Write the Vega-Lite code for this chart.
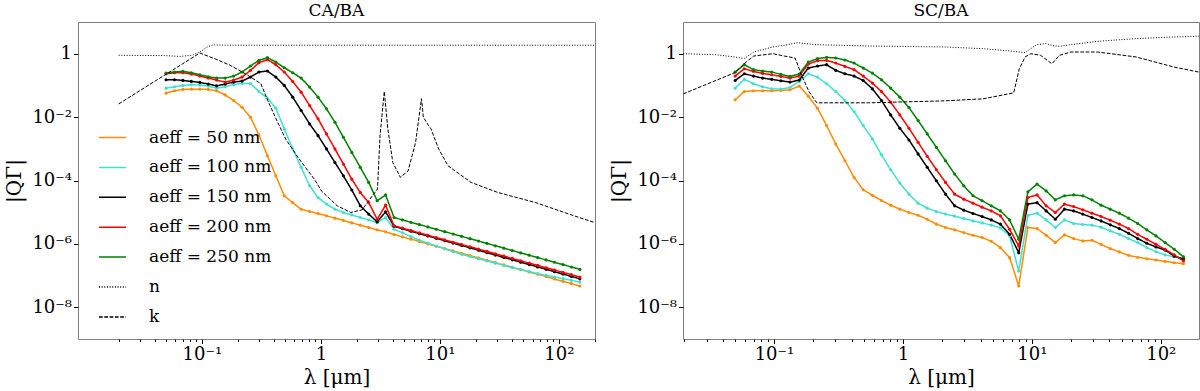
{
"$schema": "https://vega.github.io/schema/vega-lite/v6.json",
"padding": {"left": 3, "top": 1, "right": 2, "bottom": 0},
"background": "white",
"spacing": 12,
"config": {
  "font": "DejaVu Serif",
  "view": {"stroke": "#808080", "strokeWidth": 1},
  "axis": {"domain": false, "grid": false, "tickColor": "#000", "tickWidth": 1, "labelFont": "DejaVu Serif", "labelFontSize": 18, "labelColor": "#000", "titleFont": "DejaVu Serif", "titleFontSize": 20, "titleFontWeight": "normal", "titleColor": "#000", "labelFlush": false, "labelOverlap": false, "labelBound": false},
  "axisY": {"minExtent": 46, "maxExtent": 46},
  "title": {"font": "DejaVu Serif", "fontSize": 17, "fontWeight": "normal", "color": "#000", "offset": 2, "baseline": "bottom"}
},
"datasets": {
"ca": [
{"s":"50","x":0.05,"y":0.057},{"s":"50","x":0.0589,"y":0.068},{"s":"50","x":0.0693,"y":0.0745},{"s":"50","x":0.0816,"y":0.076},{"s":"50","x":0.0961,"y":0.076},{"s":"50","x":0.1131,"y":0.0745},{"s":"50","x":0.1332,"y":0.068},{"s":"50","x":0.1569,"y":0.05},{"s":"50","x":0.1847,"y":0.0334},{"s":"50","x":0.2175,"y":0.0205},
{"s":"50","x":0.256,"y":0.0099},{"s":"50","x":0.3015,"y":0.00274},{"s":"50","x":0.3552,"y":6.1e-4},{"s":"50","x":0.4182,"y":1.41e-4},{"s":"50","x":0.4924,"y":3.3e-5},{"s":"50","x":0.5798,"y":2.0e-5},{"s":"50","x":0.6827,"y":1.24e-5},{"s":"50","x":0.8039,"y":1.05e-5},{"s":"50","x":0.9465,"y":9.1e-6},{"s":"50","x":1.1145,"y":7.7e-6},
{"s":"50","x":1.312,"y":6.5e-6},{"s":"50","x":1.545,"y":5.5e-6},{"s":"50","x":1.819,"y":4.6e-6},{"s":"50","x":2.142,"y":3.9e-6},{"s":"50","x":2.522,"y":3.3e-6},{"s":"50","x":2.97,"y":2.77e-6},{"s":"50","x":3.497,"y":2.4e-6},{"s":"50","x":4.118,"y":1.97e-6},{"s":"50","x":4.849,"y":1.67e-6},{"s":"50","x":5.709,"y":1.41e-6},
{"s":"50","x":6.723,"y":1.19e-6},{"s":"50","x":7.916,"y":1.0e-6},{"s":"50","x":9.321,"y":8.45e-7},{"s":"50","x":10.98,"y":7.13e-7},{"s":"50","x":12.92,"y":6.0e-7},{"s":"50","x":15.22,"y":5.07e-7},{"s":"50","x":17.92,"y":4.28e-7},{"s":"50","x":21.1,"y":3.61e-7},{"s":"50","x":24.85,"y":3.05e-7},{"s":"50","x":29.26,"y":2.57e-7},
{"s":"50","x":34.45,"y":2.17e-7},{"s":"50","x":40.56,"y":1.83e-7},{"s":"50","x":47.76,"y":1.54e-7},{"s":"50","x":56.24,"y":1.3e-7},{"s":"50","x":66.23,"y":1.1e-7},{"s":"50","x":77.98,"y":9.3e-8},{"s":"50","x":91.82,"y":7.8e-8},{"s":"50","x":108.1,"y":6.6e-8},{"s":"50","x":127.3,"y":5.6e-8},{"s":"50","x":150,"y":4.7e-8},
{"s":"100","x":0.05,"y":0.082},{"s":"100","x":0.0589,"y":0.0906},{"s":"100","x":0.0693,"y":0.1},{"s":"100","x":0.0816,"y":0.105},{"s":"100","x":0.0961,"y":0.102},{"s":"100","x":0.1131,"y":0.095},{"s":"100","x":0.1332,"y":0.082},{"s":"100","x":0.1569,"y":0.0906},{"s":"100","x":0.1847,"y":0.105},{"s":"100","x":0.2175,"y":0.115},
{"s":"100","x":0.256,"y":0.115},{"s":"100","x":0.3015,"y":0.064},{"s":"100","x":0.3552,"y":0.0396},{"s":"100","x":0.4182,"y":0.0191},{"s":"100","x":0.4924,"y":0.00424},{"s":"100","x":0.5798,"y":9.9e-4},{"s":"100","x":0.6827,"y":2.6e-4},{"s":"100","x":0.8039,"y":6.8e-5},{"s":"100","x":0.9465,"y":2.9e-5},{"s":"100","x":1.1145,"y":1.8e-5},
{"s":"100","x":1.312,"y":1.25e-5},{"s":"100","x":1.545,"y":9.8e-6},{"s":"100","x":1.819,"y":8.2e-6},{"s":"100","x":2.142,"y":6.8e-6},{"s":"100","x":2.522,"y":5.7e-6},{"s":"100","x":2.97,"y":4.7e-6},{"s":"100","x":3.497,"y":6.8e-6},{"s":"100","x":4.118,"y":2.9e-6},{"s":"100","x":4.849,"y":2.24e-6},{"s":"100","x":5.709,"y":1.7e-6},
{"s":"100","x":6.723,"y":1.3e-6},{"s":"100","x":7.916,"y":1.06e-6},{"s":"100","x":9.321,"y":8.6e-7},{"s":"100","x":10.98,"y":7.0e-7},{"s":"100","x":12.92,"y":5.7e-7},{"s":"100","x":15.22,"y":4.7e-7},{"s":"100","x":17.92,"y":4.0e-7},{"s":"100","x":21.1,"y":3.4e-7},{"s":"100","x":24.85,"y":2.9e-7},{"s":"100","x":29.26,"y":2.47e-7},
{"s":"100","x":34.45,"y":2.1e-7},{"s":"100","x":40.56,"y":1.81e-7},{"s":"100","x":47.76,"y":1.56e-7},{"s":"100","x":56.24,"y":1.34e-7},{"s":"100","x":66.23,"y":1.15e-7},{"s":"100","x":77.98,"y":1.02e-7},{"s":"100","x":91.82,"y":9.0e-8},{"s":"100","x":108.1,"y":8.0e-8},{"s":"100","x":127.3,"y":7.1e-8},{"s":"100","x":150,"y":6.25e-8},
{"s":"150","x":0.05,"y":0.151},{"s":"150","x":0.0589,"y":0.151},{"s":"150","x":0.0693,"y":0.1436},{"s":"150","x":0.0816,"y":0.1336},{"s":"150","x":0.0961,"y":0.124},{"s":"150","x":0.1131,"y":0.11},{"s":"150","x":0.1332,"y":0.097},{"s":"150","x":0.1569,"y":0.11},{"s":"150","x":0.1847,"y":0.127},{"s":"150","x":0.2175,"y":0.137},
{"s":"150","x":0.256,"y":0.183},{"s":"150","x":0.3015,"y":0.264},{"s":"150","x":0.3552,"y":0.284},{"s":"150","x":0.4182,"y":0.183},{"s":"150","x":0.4924,"y":0.0998},{"s":"150","x":0.5798,"y":0.0426},{"s":"150","x":0.6827,"y":0.0161},{"s":"150","x":0.8039,"y":0.0061},{"s":"150","x":0.9465,"y":0.0026},{"s":"150","x":1.1145,"y":9.9e-4},
{"s":"150","x":1.312,"y":3.7e-4},{"s":"150","x":1.545,"y":1.4e-4},{"s":"150","x":1.819,"y":5.0e-5},{"s":"150","x":2.142,"y":1.6e-5},{"s":"150","x":2.522,"y":8.7e-6},{"s":"150","x":2.97,"y":4.95e-6},{"s":"150","x":3.497,"y":1.03e-5},{"s":"150","x":4.118,"y":3.6e-6},{"s":"150","x":4.849,"y":3.0e-6},{"s":"150","x":5.709,"y":2.5e-6},
{"s":"150","x":6.723,"y":2.1e-6},{"s":"150","x":7.916,"y":1.78e-6},{"s":"150","x":9.321,"y":1.5e-6},{"s":"150","x":10.98,"y":1.26e-6},{"s":"150","x":12.92,"y":1.06e-6},{"s":"150","x":15.22,"y":8.9e-7},{"s":"150","x":17.92,"y":7.5e-7},{"s":"150","x":21.1,"y":6.3e-7},{"s":"150","x":24.85,"y":5.3e-7},{"s":"150","x":29.26,"y":4.45e-7},
{"s":"150","x":34.45,"y":3.75e-7},{"s":"150","x":40.56,"y":3.15e-7},{"s":"150","x":47.76,"y":2.65e-7},{"s":"150","x":56.24,"y":2.23e-7},{"s":"150","x":66.23,"y":1.88e-7},{"s":"150","x":77.98,"y":1.58e-7},{"s":"150","x":91.82,"y":1.33e-7},{"s":"150","x":108.1,"y":1.12e-7},{"s":"150","x":127.3,"y":9.4e-8},{"s":"150","x":150,"y":7.9e-8},
{"s":"200","x":0.05,"y":0.232},{"s":"200","x":0.0589,"y":0.251},{"s":"200","x":0.0693,"y":0.251},{"s":"200","x":0.0816,"y":0.228},{"s":"200","x":0.0961,"y":0.197},{"s":"200","x":0.1131,"y":0.17},{"s":"200","x":0.1332,"y":0.147},{"s":"200","x":0.1569,"y":0.127},{"s":"200","x":0.1847,"y":0.147},{"s":"200","x":0.2175,"y":0.183},
{"s":"200","x":0.256,"y":0.298},{"s":"200","x":0.3015,"y":0.52},{"s":"200","x":0.3552,"y":0.647},{"s":"200","x":0.4182,"y":0.45},{"s":"200","x":0.4924,"y":0.264},{"s":"200","x":0.5798,"y":0.133},{"s":"200","x":0.6827,"y":0.0613},{"s":"200","x":0.8039,"y":0.0232},{"s":"200","x":0.9465,"y":0.0088},{"s":"200","x":1.1145,"y":0.00294},
{"s":"200","x":1.312,"y":9.9e-4},{"s":"200","x":1.545,"y":3.3e-4},{"s":"200","x":1.819,"y":1.1e-4},{"s":"200","x":2.142,"y":4.2e-5},{"s":"200","x":2.522,"y":2.0e-5},{"s":"200","x":2.97,"y":6.0e-6},{"s":"200","x":3.497,"y":1.67e-5},{"s":"200","x":4.118,"y":3.7e-6},{"s":"200","x":4.849,"y":3.13e-6},{"s":"200","x":5.709,"y":2.64e-6},
{"s":"200","x":6.723,"y":2.23e-6},{"s":"200","x":7.916,"y":1.88e-6},{"s":"200","x":9.321,"y":1.59e-6},{"s":"200","x":10.98,"y":1.34e-6},{"s":"200","x":12.92,"y":1.13e-6},{"s":"200","x":15.22,"y":9.6e-7},{"s":"200","x":17.92,"y":8.1e-7},{"s":"200","x":21.1,"y":6.84e-7},{"s":"200","x":24.85,"y":5.78e-7},{"s":"200","x":29.26,"y":4.88e-7},
{"s":"200","x":34.45,"y":4.12e-7},{"s":"200","x":40.56,"y":3.48e-7},{"s":"200","x":47.76,"y":2.94e-7},{"s":"200","x":56.24,"y":2.48e-7},{"s":"200","x":66.23,"y":2.1e-7},{"s":"200","x":77.98,"y":1.77e-7},{"s":"200","x":91.82,"y":1.5e-7},{"s":"200","x":108.1,"y":1.26e-7},{"s":"200","x":127.3,"y":1.07e-7},{"s":"200","x":150,"y":9.0e-8},
{"s":"250","x":0.05,"y":0.244},{"s":"250","x":0.0589,"y":0.264},{"s":"250","x":0.0693,"y":0.277},{"s":"250","x":0.0816,"y":0.251},{"s":"250","x":0.0961,"y":0.217},{"s":"250","x":0.1131,"y":0.188},{"s":"250","x":0.1332,"y":0.17},{"s":"250","x":0.1569,"y":0.17},{"s":"250","x":0.1847,"y":0.197},{"s":"250","x":0.2175,"y":0.264},
{"s":"250","x":0.256,"y":0.41},{"s":"250","x":0.3015,"y":0.616},{"s":"250","x":0.3552,"y":0.75},{"s":"250","x":0.4182,"y":0.546},{"s":"250","x":0.4924,"y":0.361},{"s":"250","x":0.5798,"y":0.251},{"s":"250","x":0.6827,"y":0.17},{"s":"250","x":0.8039,"y":0.0883},{"s":"250","x":0.9465,"y":0.0426},{"s":"250","x":1.1145,"y":0.0182},
{"s":"250","x":1.312,"y":0.0069},{"s":"250","x":1.545,"y":0.00231},{"s":"250","x":1.819,"y":7.7e-4},{"s":"250","x":2.142,"y":2.6e-4},{"s":"250","x":2.522,"y":8.7e-5},{"s":"250","x":2.97,"y":2.3e-5},{"s":"250","x":3.497,"y":3.5e-5},{"s":"250","x":4.118,"y":6.8e-6},{"s":"250","x":4.849,"y":5.7e-6},{"s":"250","x":5.709,"y":4.8e-6},
{"s":"250","x":6.723,"y":4.06e-6},{"s":"250","x":7.916,"y":3.43e-6},{"s":"250","x":9.321,"y":2.89e-6},{"s":"250","x":10.98,"y":2.43e-6},{"s":"250","x":12.92,"y":2.05e-6},{"s":"250","x":15.22,"y":1.73e-6},{"s":"250","x":17.92,"y":1.46e-6},{"s":"250","x":21.1,"y":1.23e-6},{"s":"250","x":24.85,"y":1.04e-6},{"s":"250","x":29.26,"y":8.7e-7},
{"s":"250","x":34.45,"y":7.35e-7},{"s":"250","x":40.56,"y":6.2e-7},{"s":"250","x":47.76,"y":5.2e-7},{"s":"250","x":56.24,"y":4.4e-7},{"s":"250","x":66.23,"y":3.7e-7},{"s":"250","x":77.98,"y":3.13e-7},{"s":"250","x":91.82,"y":2.63e-7},{"s":"250","x":108.1,"y":2.22e-7},{"s":"250","x":127.3,"y":1.87e-7},{"s":"250","x":150,"y":1.57e-7},
{"s":"n","x":0.02,"y":0.89},{"s":"n","x":0.03,"y":0.88},{"s":"n","x":0.049,"y":0.87},{"s":"n","x":0.066,"y":0.82},{"s":"n","x":0.083,"y":0.9},{"s":"n","x":0.096,"y":1.13},{"s":"n","x":0.111,"y":1.63},{"s":"n","x":0.124,"y":1.9},{"s":"n","x":0.15,"y":1.86},{"s":"n","x":0.3,"y":1.85},{"s":"n","x":1,"y":1.85},{"s":"n","x":10,"y":1.85},{"s":"n","x":100,"y":1.85},{"s":"n","x":200,"y":1.85},
{"s":"k","x":0.02,"y":0.026},{"s":"k","x":0.096,"y":1.05},{"s":"k","x":0.129,"y":0.69},{"s":"k","x":0.173,"y":0.43},{"s":"k","x":0.233,"y":0.23},{"s":"k","x":0.313,"y":0.113},{"s":"k","x":0.363,"y":0.0295},{"s":"k","x":0.42,"y":0.0088},{"s":"k","x":0.507,"y":0.002},{"s":"k","x":0.656,"y":4.8e-4},{"s":"k","x":0.88,"y":1.1e-4},{"s":"k","x":1.02,"y":4.5e-5},{"s":"k","x":1.37,"y":1.6e-5},{"s":"k","x":1.78,"y":9.8e-6},{"s":"k","x":2.22,"y":1.19e-5},{"s":"k","x":2.58,"y":2.6e-5},{"s":"k","x":2.99,"y":5.4e-5},{"s":"k","x":3.14,"y":2.6e-3},{"s":"k","x":3.41,"y":0.064},{"s":"k","x":3.65,"y":0.0043},{"s":"k","x":4.02,"y":3.7e-4},{"s":"k","x":4.65,"y":1.26e-4},{"s":"k","x":5.4,"y":2.0e-4},{"s":"k","x":6.25,"y":1.6e-3},{"s":"k","x":7.0,"y":0.038},{"s":"k","x":7.26,"y":0.01},{"s":"k","x":8.0,"y":0.0055},{"s":"k","x":8.4,"y":0.0043},{"s":"k","x":9.75,"y":1.0e-3},{"s":"k","x":11.7,"y":2.9e-4},{"s":"k","x":18.3,"y":8.7e-5},{"s":"k","x":30.6,"y":4.2e-5},{"s":"k","x":64,"y":2.0e-5},{"s":"k","x":134,"y":7.7e-6},{"s":"k","x":200,"y":4.7e-6}
],
"sc": [
{"s":"50","x":0.05,"y":0.035},{"s":"50","x":0.0589,"y":0.064},{"s":"50","x":0.0693,"y":0.0676},{"s":"50","x":0.0816,"y":0.0676},{"s":"50","x":0.0961,"y":0.0676},{"s":"50","x":0.1131,"y":0.0693},{"s":"50","x":0.1332,"y":0.0728},{"s":"50","x":0.1569,"y":0.095},{"s":"50","x":0.1847,"y":0.0458},{"s":"50","x":0.2175,"y":0.0191},
{"s":"50","x":0.256,"y":0.0054},{"s":"50","x":0.3015,"y":0.00142},{"s":"50","x":0.3552,"y":4.2e-4},{"s":"50","x":0.4182,"y":1.25e-4},{"s":"50","x":0.4924,"y":5.1e-5},{"s":"50","x":0.5798,"y":3.4e-5},{"s":"50","x":0.6827,"y":2.34e-5},{"s":"50","x":0.8039,"y":1.67e-5},{"s":"50","x":0.9465,"y":1.25e-5},{"s":"50","x":1.1145,"y":9.8e-6},
{"s":"50","x":1.312,"y":8.0e-6},{"s":"50","x":1.545,"y":6.0e-6},{"s":"50","x":1.819,"y":4.2e-6},{"s":"50","x":2.142,"y":3.3e-6},{"s":"50","x":2.522,"y":2.76e-6},{"s":"50","x":2.97,"y":2.27e-6},{"s":"50","x":3.497,"y":1.87e-6},{"s":"50","x":4.118,"y":1.58e-6},{"s":"50","x":4.849,"y":1.21e-6},{"s":"50","x":5.709,"y":7.6e-7},
{"s":"50","x":6.723,"y":3.68e-7},{"s":"50","x":7.916,"y":4.7e-8},{"s":"50","x":9.321,"y":3.3e-6},{"s":"50","x":10.98,"y":3.05e-6},{"s":"50","x":12.92,"y":1.87e-6},{"s":"50","x":15.22,"y":1.1e-6},{"s":"50","x":17.92,"y":1.92e-6},{"s":"50","x":21.1,"y":1.47e-6},{"s":"50","x":24.85,"y":1.24e-6},{"s":"50","x":29.26,"y":1.3e-6},
{"s":"50","x":34.45,"y":9.7e-7},{"s":"50","x":40.56,"y":7.1e-7},{"s":"50","x":47.76,"y":5.6e-7},{"s":"50","x":56.24,"y":4.36e-7},{"s":"50","x":66.23,"y":3.77e-7},{"s":"50","x":77.98,"y":3.41e-7},{"s":"50","x":91.82,"y":3.1e-7},{"s":"50","x":108.1,"y":2.81e-7},{"s":"50","x":127.3,"y":2.55e-7},{"s":"50","x":150,"y":2.37e-7},
{"s":"100","x":0.05,"y":0.082},{"s":"100","x":0.0589,"y":0.155},{"s":"100","x":0.0693,"y":0.113},{"s":"100","x":0.0816,"y":0.0906},{"s":"100","x":0.0961,"y":0.078},{"s":"100","x":0.1131,"y":0.076},{"s":"100","x":0.1332,"y":0.086},{"s":"100","x":0.1569,"y":0.133},{"s":"100","x":0.1847,"y":0.233},{"s":"100","x":0.2175,"y":0.183},
{"s":"100","x":0.256,"y":0.113},{"s":"100","x":0.3015,"y":0.064},{"s":"100","x":0.3552,"y":0.0334},{"s":"100","x":0.4182,"y":0.015},{"s":"100","x":0.4924,"y":0.0054},{"s":"100","x":0.5798,"y":0.00205},{"s":"100","x":0.6827,"y":6.4e-4},{"s":"100","x":0.8039,"y":2.19e-4},{"s":"100","x":0.9465,"y":8.3e-5},{"s":"100","x":1.1145,"y":3.7e-5},
{"s":"100","x":1.312,"y":1.93e-5},{"s":"100","x":1.545,"y":1.34e-5},{"s":"100","x":1.819,"y":1.05e-5},{"s":"100","x":2.142,"y":8.7e-6},{"s":"100","x":2.522,"y":7.5e-6},{"s":"100","x":2.97,"y":6.3e-6},{"s":"100","x":3.497,"y":5.3e-6},{"s":"100","x":4.118,"y":4.6e-6},{"s":"100","x":4.849,"y":3.9e-6},{"s":"100","x":5.709,"y":3.2e-6},
{"s":"100","x":6.723,"y":1.79e-6},{"s":"100","x":7.916,"y":1.39e-7},{"s":"100","x":9.321,"y":8.0e-6},{"s":"100","x":10.98,"y":9.3e-6},{"s":"100","x":12.92,"y":5.7e-6},{"s":"100","x":15.22,"y":3.3e-6},{"s":"100","x":17.92,"y":5.7e-6},{"s":"100","x":21.1,"y":4.4e-6},{"s":"100","x":24.85,"y":4.1e-6},{"s":"100","x":29.26,"y":3.9e-6},
{"s":"100","x":34.45,"y":3.36e-6},{"s":"100","x":40.56,"y":2.57e-6},{"s":"100","x":47.76,"y":2.01e-6},{"s":"100","x":56.24,"y":1.47e-6},{"s":"100","x":66.23,"y":1.1e-6},{"s":"100","x":77.98,"y":7.6e-7},{"s":"100","x":91.82,"y":5.7e-7},{"s":"100","x":108.1,"y":4.5e-7},{"s":"100","x":127.3,"y":3.87e-7},{"s":"100","x":150,"y":3.6e-7},
{"s":"150","x":0.05,"y":0.143},{"s":"150","x":0.0589,"y":0.233},{"s":"150","x":0.0693,"y":0.197},{"s":"150","x":0.0816,"y":0.17},{"s":"150","x":0.0961,"y":0.155},{"s":"150","x":0.1131,"y":0.14},{"s":"150","x":0.1332,"y":0.127},{"s":"150","x":0.1569,"y":0.147},{"s":"150","x":0.1847,"y":0.353},{"s":"150","x":0.2175,"y":0.408},
{"s":"150","x":0.256,"y":0.45},{"s":"150","x":0.3015,"y":0.298},{"s":"150","x":0.3552,"y":0.233},{"s":"150","x":0.4182,"y":0.197},{"s":"150","x":0.4924,"y":0.143},{"s":"150","x":0.5798,"y":0.078},{"s":"150","x":0.6827,"y":0.0334},{"s":"150","x":0.8039,"y":0.0117},{"s":"150","x":0.9465,"y":0.00445},{"s":"150","x":1.1145,"y":0.0019},
{"s":"150","x":1.312,"y":6.9e-4},{"s":"150","x":1.545,"y":2.6e-4},{"s":"150","x":1.819,"y":9.8e-5},{"s":"150","x":2.142,"y":3.7e-5},{"s":"150","x":2.522,"y":1.59e-5},{"s":"150","x":2.97,"y":1.16e-5},{"s":"150","x":3.497,"y":9.1e-6},{"s":"150","x":4.118,"y":7.3e-6},{"s":"150","x":4.849,"y":5.7e-6},{"s":"150","x":5.709,"y":4.2e-6},
{"s":"150","x":6.723,"y":2.0e-6},{"s":"150","x":7.916,"y":5.3e-7},{"s":"150","x":9.321,"y":1.8e-5},{"s":"150","x":10.98,"y":2.0e-5},{"s":"150","x":12.92,"y":1.1e-5},{"s":"150","x":15.22,"y":6.0e-6},{"s":"150","x":17.92,"y":1.25e-5},{"s":"150","x":21.1,"y":1.1e-5},{"s":"150","x":24.85,"y":8.7e-6},{"s":"150","x":29.26,"y":6.8e-6},
{"s":"150","x":34.45,"y":5.3e-6},{"s":"150","x":40.56,"y":4.0e-6},{"s":"150","x":47.76,"y":3.04e-6},{"s":"150","x":56.24,"y":2.17e-6},{"s":"150","x":66.23,"y":1.47e-6},{"s":"150","x":77.98,"y":1.05e-6},{"s":"150","x":91.82,"y":8.0e-7},{"s":"150","x":108.1,"y":6.4e-7},{"s":"150","x":127.3,"y":4.1e-7},{"s":"150","x":150,"y":3.3e-7},
{"s":"200","x":0.05,"y":0.197},{"s":"200","x":0.0589,"y":0.336},{"s":"200","x":0.0693,"y":0.277},{"s":"200","x":0.0816,"y":0.239},{"s":"200","x":0.0961,"y":0.217},{"s":"200","x":0.1131,"y":0.192},{"s":"200","x":0.1332,"y":0.17},{"s":"200","x":0.1569,"y":0.197},{"s":"200","x":0.1847,"y":0.472},{"s":"200","x":0.2175,"y":0.602},
{"s":"200","x":0.256,"y":0.616},{"s":"200","x":0.3015,"y":0.508},{"s":"200","x":0.3552,"y":0.398},{"s":"200","x":0.4182,"y":0.313},{"s":"200","x":0.4924,"y":0.197},{"s":"200","x":0.5798,"y":0.118},{"s":"200","x":0.6827,"y":0.064},{"s":"200","x":0.8039,"y":0.0296},{"s":"200","x":0.9465,"y":0.0117},{"s":"200","x":1.1145,"y":0.00445},
{"s":"200","x":1.312,"y":0.0016},{"s":"200","x":1.545,"y":5.8e-4},{"s":"200","x":1.819,"y":2.19e-4},{"s":"200","x":2.142,"y":8.7e-5},{"s":"200","x":2.522,"y":3.7e-5},{"s":"200","x":2.97,"y":2.58e-5},{"s":"200","x":3.497,"y":1.93e-5},{"s":"200","x":4.118,"y":1.44e-5},{"s":"200","x":4.849,"y":1.1e-5},{"s":"200","x":5.709,"y":7.7e-6},
{"s":"200","x":6.723,"y":2.9e-6},{"s":"200","x":7.916,"y":8.6e-7},{"s":"200","x":9.321,"y":2.9e-5},{"s":"200","x":10.98,"y":3.5e-5},{"s":"200","x":12.92,"y":1.59e-5},{"s":"200","x":15.22,"y":9.8e-6},{"s":"200","x":17.92,"y":1.8e-5},{"s":"200","x":21.1,"y":1.51e-5},{"s":"200","x":24.85,"y":1.19e-5},{"s":"200","x":29.26,"y":9.3e-6},
{"s":"200","x":34.45,"y":7.3e-6},{"s":"200","x":40.56,"y":5.6e-6},{"s":"200","x":47.76,"y":4.2e-6},{"s":"200","x":56.24,"y":3.04e-6},{"s":"200","x":66.23,"y":2.0e-6},{"s":"200","x":77.98,"y":1.4e-6},{"s":"200","x":91.82,"y":9.7e-7},{"s":"200","x":108.1,"y":6.7e-7},{"s":"200","x":127.3,"y":4.5e-7},{"s":"200","x":150,"y":2.9e-7},
{"s":"250","x":0.05,"y":0.262},{"s":"250","x":0.0589,"y":0.45},{"s":"250","x":0.0693,"y":0.313},{"s":"250","x":0.0816,"y":0.284},{"s":"250","x":0.0961,"y":0.264},{"s":"250","x":0.1131,"y":0.222},{"s":"250","x":0.1332,"y":0.192},{"s":"250","x":0.1569,"y":0.228},{"s":"250","x":0.1847,"y":0.546},{"s":"250","x":0.2175,"y":0.697},
{"s":"250","x":0.256,"y":0.767},{"s":"250","x":0.3015,"y":0.731},{"s":"250","x":0.3552,"y":0.632},{"s":"250","x":0.4182,"y":0.508},{"s":"250","x":0.4924,"y":0.352},{"s":"250","x":0.5798,"y":0.244},{"s":"250","x":0.6827,"y":0.15},{"s":"250","x":0.8039,"y":0.0822},{"s":"250","x":0.9465,"y":0.0426},{"s":"250","x":1.1145,"y":0.02},
{"s":"250","x":1.312,"y":0.00777},{"s":"250","x":1.545,"y":0.00294},{"s":"250","x":1.819,"y":0.00111},{"s":"250","x":2.142,"y":4.2e-4},{"s":"250","x":2.522,"y":1.6e-4},{"s":"250","x":2.97,"y":6.8e-5},{"s":"250","x":3.497,"y":3.3e-5},{"s":"250","x":4.118,"y":2.3e-5},{"s":"250","x":4.849,"y":1.59e-5},{"s":"250","x":5.709,"y":1.1e-5},
{"s":"250","x":6.723,"y":5.7e-6},{"s":"250","x":7.916,"y":1.4e-6},{"s":"250","x":9.321,"y":4.4e-5},{"s":"250","x":10.98,"y":7.7e-5},{"s":"250","x":12.92,"y":4.7e-5},{"s":"250","x":15.22,"y":2.45e-5},{"s":"250","x":17.92,"y":3.3e-5},{"s":"250","x":21.1,"y":3.5e-5},{"s":"250","x":24.85,"y":3.3e-5},{"s":"250","x":29.26,"y":2.45e-5},
{"s":"250","x":34.45,"y":1.67e-5},{"s":"250","x":40.56,"y":1.25e-5},{"s":"250","x":47.76,"y":9.3e-6},{"s":"250","x":56.24,"y":6.5e-6},{"s":"250","x":66.23,"y":4.4e-6},{"s":"250","x":77.98,"y":2.77e-6},{"s":"250","x":91.82,"y":1.79e-6},{"s":"250","x":108.1,"y":1.1e-6},{"s":"250","x":127.3,"y":6.8e-7},{"s":"250","x":150,"y":3.9e-7},
{"s":"n","x":0.0198,"y":1.0},{"s":"n","x":0.0352,"y":0.93},{"s":"n","x":0.0495,"y":0.79},{"s":"n","x":0.0588,"y":0.7},{"s":"n","x":0.0697,"y":1.13},{"s":"n","x":0.098,"y":1.63},{"s":"n","x":0.12,"y":1.84},{"s":"n","x":0.153,"y":2.23},{"s":"n","x":0.207,"y":1.93},{"s":"n","x":0.54,"y":1.75},{"s":"n","x":2.12,"y":1.63},{"s":"n","x":4.19,"y":1.44},{"s":"n","x":7.23,"y":1.19},{"s":"n","x":8.87,"y":1.08},{"s":"n","x":10.9,"y":1.93},{"s":"n","x":12.9,"y":2.08},{"s":"n","x":14.5,"y":1.8},{"s":"n","x":16.4,"y":1.71},{"s":"n","x":20.1,"y":1.93},{"s":"n","x":32.4,"y":2.46},{"s":"n","x":64.3,"y":2.99},{"s":"n","x":127,"y":3.38},{"s":"n","x":198,"y":3.55},
{"s":"k","x":0.0198,"y":0.054},{"s":"k","x":0.0495,"y":0.25},{"s":"k","x":0.0608,"y":0.546},{"s":"k","x":0.0697,"y":0.845},{"s":"k","x":0.098,"y":1.0},{"s":"k","x":0.12,"y":0.845},{"s":"k","x":0.146,"y":0.73},{"s":"k","x":0.164,"y":0.206},{"s":"k","x":0.188,"y":0.061},{"s":"k","x":0.215,"y":0.0282},{"s":"k","x":0.54,"y":0.0282},{"s":"k","x":2.12,"y":0.0326},{"s":"k","x":4.19,"y":0.0377},{"s":"k","x":7.23,"y":0.058},{"s":"k","x":8.0,"y":0.336},{"s":"k","x":8.87,"y":0.79},{"s":"k","x":9.82,"y":1.0},{"s":"k","x":11.7,"y":0.89},{"s":"k","x":14.3,"y":0.48},{"s":"k","x":16.4,"y":0.89},{"s":"k","x":20.1,"y":1.13},{"s":"k","x":32.4,"y":1.13},{"s":"k","x":64.3,"y":0.79},{"s":"k","x":127,"y":0.378},{"s":"k","x":198,"y":0.263}
]
},
"hconcat": [
{
  "title": "CA/BA",
  "width": 517, "height": 317,
  "data": {"name": "ca"},
  "encoding": {
    "x": {"field": "x", "type": "quantitative", "title": "λ [μm]",
      "scale": {"type": "log", "domain": [0.0091, 201], "nice": false},
      "axis": {"values": [0.02,0.03,0.04,0.05,0.06,0.07,0.08,0.09,0.1,0.2,0.3,0.4,0.5,0.6,0.7,0.8,0.9,1,2,3,4,5,6,7,8,9,10,20,30,40,50,60,70,80,90,100,200],
        "labelExpr": "datum.value == 0.1 ? '10⁻¹' : datum.value == 1 ? '1' : datum.value == 10 ? '10¹' : datum.value == 100 ? '10²' : ''",
        "tickSize": {"condition": {"test": "datum.value == 0.1 || datum.value == 1 || datum.value == 10 || datum.value == 100", "value": 4.5}, "value": 2.5},
        "labelPadding": 2, "titlePadding": 4}},
    "y": {"field": "y", "type": "quantitative", "title": "|QΓ|",
      "scale": {"type": "log", "domain": [1e-9, 10], "nice": false},
      "axis": {"values": [1e-8, 1e-6, 1e-4, 1e-2, 1],
        "labelExpr": "datum.value == 1 ? '1' : datum.value == 0.01 ? '10⁻²' : datum.value == 0.0001 ? '10⁻⁴' : datum.value == 0.000001 ? '10⁻⁶' : '10⁻⁸'",
        "tickSize": 4.5, "labelPadding": 2, "titlePadding": 8}}
  },
  "layer": [
    {"transform": [{"filter": "datum.s != 'n' && datum.s != 'k'"}],
     "mark": {"type": "line", "strokeWidth": 1.5, "clip": true, "point": {"filled": true, "size": 10}},
     "encoding": {
       "color": {"field": "s", "type": "nominal",
         "scale": {"domain": ["50","100","150","200","250","n","k"], "range": ["#ff8c00","#40e0d0","#000000","#ff0000","#008000","#000000","#000000"]},
         "legend": {"title": null, "orient": "none", "legendX": 20, "legendY": 101, "symbolType": "stroke", "symbolSize": 729, "symbolStrokeWidth": 1.5, "labelFontSize": 17, "labelFont": "DejaVu Serif", "labelColor": "#000", "rowPadding": 6.9, "labelOffset": 22, "padding": 0, "labelLimit": 300,
           "labelExpr": "datum.label == 'n' || datum.label == 'k' ? datum.label : 'aeff = ' + datum.label + ' nm'"}},
       "strokeDash": {"field": "s", "type": "nominal",
         "scale": {"domain": ["50","100","150","200","250","n","k"], "range": [[1,0],[1,0],[1,0],[1,0],[1,0],[1,1.65],[3.7,1.6]]},
         "legend": {"title": null, "orient": "none", "legendX": 20, "legendY": 101, "symbolType": "stroke", "symbolSize": 729, "symbolStrokeWidth": 1.5, "labelFontSize": 17, "labelFont": "DejaVu Serif", "labelColor": "#000", "rowPadding": 6.9, "labelOffset": 22, "padding": 0, "labelLimit": 300,
           "labelExpr": "datum.label == 'n' || datum.label == 'k' ? datum.label : 'aeff = ' + datum.label + ' nm'"}}
     }},
    {"transform": [{"filter": "datum.s == 'n' || datum.s == 'k'"}],
     "mark": {"type": "line", "strokeWidth": 1, "clip": true},
     "encoding": {
       "color": {"field": "s", "type": "nominal"},
       "strokeDash": {"field": "s", "type": "nominal"}
     }}
  ]
},
{
  "title": "SC/BA",
  "width": 516, "height": 317,
  "data": {"name": "sc"},
  "encoding": {
    "x": {"field": "x", "type": "quantitative", "title": "λ [μm]",
      "scale": {"type": "log", "domain": [0.0197, 198], "nice": false},
      "axis": {"values": [0.02,0.03,0.04,0.05,0.06,0.07,0.08,0.09,0.1,0.2,0.3,0.4,0.5,0.6,0.7,0.8,0.9,1,2,3,4,5,6,7,8,9,10,20,30,40,50,60,70,80,90,100],
        "labelExpr": "datum.value == 0.1 ? '10⁻¹' : datum.value == 1 ? '1' : datum.value == 10 ? '10¹' : datum.value == 100 ? '10²' : ''",
        "tickSize": {"condition": {"test": "datum.value == 0.1 || datum.value == 1 || datum.value == 10 || datum.value == 100", "value": 4.5}, "value": 2.5},
        "labelPadding": 2, "titlePadding": 4}},
    "y": {"field": "y", "type": "quantitative", "title": "|QΓ|",
      "scale": {"type": "log", "domain": [1e-9, 10], "nice": false},
      "axis": {"values": [1e-8, 1e-6, 1e-4, 1e-2, 1],
        "labelExpr": "datum.value == 1 ? '1' : datum.value == 0.01 ? '10⁻²' : datum.value == 0.0001 ? '10⁻⁴' : datum.value == 0.000001 ? '10⁻⁶' : '10⁻⁸'",
        "tickSize": 4.5, "labelPadding": 2, "titlePadding": 8}}
  },
  "layer": [
    {"transform": [{"filter": "datum.s != 'n' && datum.s != 'k'"}],
     "mark": {"type": "line", "strokeWidth": 1.5, "clip": true, "point": {"filled": true, "size": 10}},
     "encoding": {
       "color": {"field": "s", "type": "nominal", "legend": null,
         "scale": {"domain": ["50","100","150","200","250","n","k"], "range": ["#ff8c00","#40e0d0","#000000","#ff0000","#008000","#000000","#000000"]}},
       "strokeDash": {"field": "s", "type": "nominal", "legend": null,
         "scale": {"domain": ["50","100","150","200","250","n","k"], "range": [[1,0],[1,0],[1,0],[1,0],[1,0],[1,1.65],[3.7,1.6]]}}
     }},
    {"transform": [{"filter": "datum.s == 'n' || datum.s == 'k'"}],
     "mark": {"type": "line", "strokeWidth": 1, "clip": true},
     "encoding": {
       "color": {"field": "s", "type": "nominal", "legend": null},
       "strokeDash": {"field": "s", "type": "nominal", "legend": null}
     }}
  ]
}
],
"resolve": {"scale": {"color": "independent", "strokeDash": "independent"}, "legend": {"color": "independent", "strokeDash": "independent"}}
}
